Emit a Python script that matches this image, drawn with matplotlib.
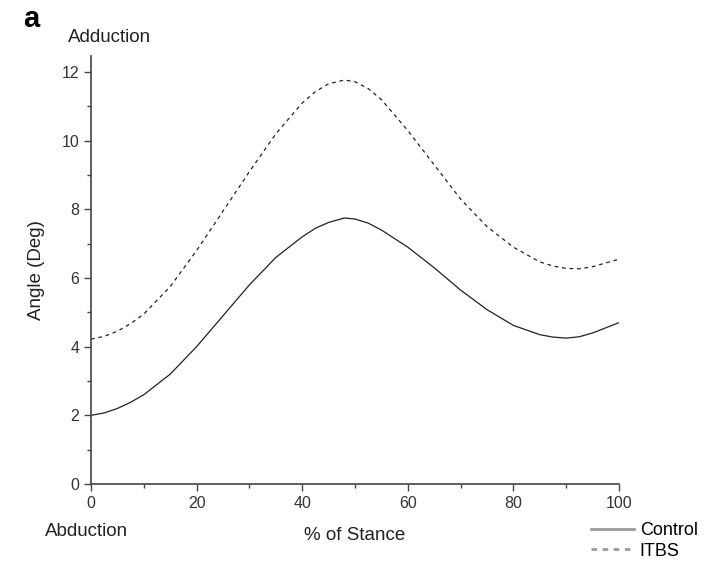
import matplotlib.pyplot as plt
from matplotlib.lines import Line2D
from matplotlib.ticker import MultipleLocator

plt.rcParams['font.family'] = ['Liberation Sans', 'DejaVu Sans']

# % of stance
stance = [0, 2.5, 5, 7.5, 10, 15, 20, 25, 30, 35, 40, 42.5, 45, 48, 50, 52.5, 55, 60, 65, 70, 75,
          80, 85, 87.5, 90, 92.5, 95, 100]
control = [2.0, 2.07, 2.2, 2.38, 2.6, 3.2, 4.0, 4.9, 5.8, 6.6, 7.2, 7.45, 7.62, 7.75, 7.72, 7.6, 7.4,
           6.9, 6.3, 5.65, 5.08, 4.62, 4.35, 4.28, 4.25, 4.29, 4.4, 4.7]
itbs = [4.22, 4.3, 4.45, 4.67, 4.95, 5.75, 6.8, 7.95, 9.1, 10.2, 11.1, 11.43, 11.66, 11.77, 11.72,
        11.52, 11.2, 10.3, 9.3, 8.3, 7.5, 6.9, 6.47, 6.35, 6.28, 6.27, 6.33, 6.55]
serie_names = ['Control', 'ITBS']

fig = plt.figure(figsize=(7.07, 5.61), dpi=100)
ax = fig.add_axes([0.1287, 0.1373, 0.7468, 0.7629])

ax.plot(stance, control, color='#222222', lw=0.9, ls='-')
ax.plot(stance, itbs, color='#222222', lw=0.9, ls=(0, (3, 3)))

ax.set_xlim(0, 100)
ax.set_ylim(0, 12.47)
ax.xaxis.set_major_locator(MultipleLocator(20))
ax.xaxis.set_minor_locator(MultipleLocator(10))
ax.yaxis.set_major_locator(MultipleLocator(2))
ax.yaxis.set_minor_locator(MultipleLocator(1))
for s in ['top', 'right']:
    ax.spines[s].set_visible(False)
for s in ['left', 'bottom']:
    ax.spines[s].set_color('#444444')
    ax.spines[s].set_linewidth(1.2)
ax.tick_params(which='major', direction='out', length=5, width=1, color='#444444',
               labelsize=11.5, labelcolor='#333333')
ax.tick_params(which='minor', direction='out', length=3, width=1, color='#444444')

ax.set_ylabel('Angle (Deg)', fontsize=13.5, color='#222222', labelpad=12)
fig.text(355 / 707, 1 - 536 / 561, '% of Stance', ha='center', va='center', fontsize=13.5, color='#222222')
fig.text(23 / 707, 1 - 19 / 561, 'a', ha='left', va='center', fontsize=21, fontweight='bold')
fig.text(68 / 707, 1 - 37 / 561, 'Adduction', ha='left', va='center', fontsize=13.5, color='#222222')
fig.text(45 / 707, 1 - 531 / 561, 'Abduction', ha='left', va='center', fontsize=13.5, color='#222222')

# legend handles are drawn lighter and thicker than the curves
handles = [Line2D([], [], color='#9a9a9a', lw=2, ls='-'),
           Line2D([], [], color='#9a9a9a', lw=2, ls=(0, (2, 2)))]
fig.legend(handles, serie_names, loc='upper left', bbox_to_anchor=(591 / 707, 1 - 522 / 561),
           frameon=False, fontsize=13, handlelength=2.4, handletextpad=0.3,
           labelspacing=0.2, borderpad=0, borderaxespad=0)

fig.savefig('out.png', dpi=100)
